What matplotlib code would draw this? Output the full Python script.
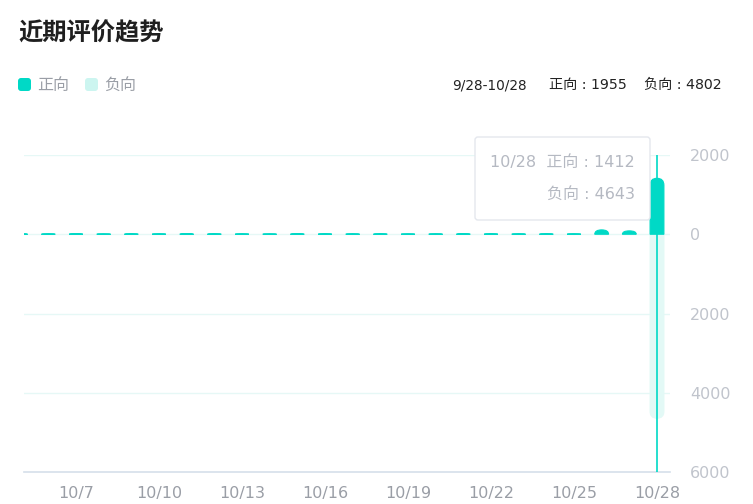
import matplotlib
matplotlib.use("Agg")
import matplotlib.pyplot as plt
from matplotlib.path import Path
from matplotlib.patches import PathPatch, FancyBboxPatch
from matplotlib.transforms import IdentityTransform

plt.rcParams['font.family'] = ['Noto Sans CJK SC', 'DejaVu Sans']
WIDE = ['DejaVu Sans', 'Noto Sans CJK SC']  # wider digits, CJK falls back

#######################################################################################################
# data
#######################################################################################################

dates = ['9/28', '9/29', '9/30', '10/1', '10/2', '10/3', '10/4', '10/5', '10/6', '10/7',
         '10/8', '10/9', '10/10', '10/11', '10/12', '10/13', '10/14', '10/15', '10/16', '10/17',
         '10/18', '10/19', '10/20', '10/21', '10/22', '10/23', '10/24', '10/25', '10/26', '10/27',
         '10/28']
positive = [26, 22, 19, 24, 18, 21, 16, 10, 9, 11,
            8, 10, 9, 12, 10, 9, 8, 11, 10, 9,
            10, 8, 9, 11, 10, 9, 10, 9, 110, 85,
            1412]
negative = [8, 6, 7, 9, 5, 6, 7, 4, 5, 3,
            4, 5, 4, 6, 4, 3, 5, 4, 4, 5,
            3, 4, 5, 4, 4, 5, 4, 5, 12, 9,
            4643]
y_ticks = [2000, 0, -2000, -4000, -6000]
x_tick_idx = [9, 12, 15, 18, 21, 24, 27, 30]

POS_COLOR = '#00d9c6'
NEG_COLOR = '#e3f9f6'
NEG_LEGEND = '#ccf5f0'

W, H = 753, 504
fig = plt.figure(figsize=(W / 100, H / 100), dpi=100)
ax_l, ax_r, ax_t, ax_b = 24, 670, 155, 472
ax = fig.add_axes([ax_l / W, (H - ax_b) / H, (ax_r - ax_l) / W, (ax_b - ax_t) / H])

xmin, xmax = 7.12, 30.47
ymin, ymax = -6000, 2000
ax.set_xlim(xmin, xmax)
ax.set_ylim(ymin, ymax)

px_x = (ax_r - ax_l) / (xmax - xmin)
px_y = (ax_b - ax_t) / (ymax - ymin)


def rounded_bar(x, h, w, color, r_px=7, z=3):
    # bar from 0 to h with the far end rounded (like echarts borderRadius)
    a, b = x - w / 2, x + w / 2
    rx = min(r_px / px_x, w / 2)
    ry = min(r_px / px_y, abs(h))
    s = 1 if h >= 0 else -1
    verts = [(a, 0), (a, h - s * ry), (a, h), (a + rx, h), (b - rx, h),
             (b, h), (b, h - s * ry), (b, 0), (a, 0)]
    codes = [Path.MOVETO, Path.LINETO, Path.CURVE3, Path.CURVE3, Path.LINETO,
             Path.CURVE3, Path.CURVE3, Path.LINETO, Path.CLOSEPOLY]
    ax.add_patch(PathPatch(Path(verts, codes), facecolor=color, edgecolor=color,
                           lw=0.8, zorder=z, clip_on=True))


for i in range(len(dates)):
    rounded_bar(i, -negative[i], 0.5, NEG_COLOR, z=2)
    rounded_bar(i, positive[i], 0.5, POS_COLOR, z=3)

# grid lines
for t in y_ticks[:-1]:
    ax.axhline(t, color='#e6f8f6', lw=1, zorder=1)

# tooltip axis pointer
ax.axvline(len(dates) - 1, color=POS_COLOR, lw=1.2, zorder=5)

for s in ['top', 'left', 'right']:
    ax.spines[s].set_visible(False)
ax.spines['bottom'].set_color('#d5dfea')
ax.spines['bottom'].set_linewidth(1.2)

ax.set_xticks(x_tick_idx)
ax.set_xticklabels([dates[i] for i in x_tick_idx], color='#9a9ea6', fontsize=11.5, family=WIDE)
ax.yaxis.tick_right()
ax.set_yticks(y_ticks)
ax.set_yticklabels([str(abs(t)) for t in y_ticks], color='#c0c4cc', fontsize=11.5, family=WIDE)
ax.tick_params(axis='x', length=0, pad=10)
ax.tick_params(axis='y', length=0, pad=14.5)


def fy(y):
    return 1 - y / H


# title
fig.text(18 / W, fy(33), '近期评价趋势', fontsize=17.5, fontweight='bold', color='#1f1f1f',
         va='center', ha='left')

# legend
for x0, col, label in [(18, POS_COLOR, '正向'), (85, NEG_LEGEND, '负向')]:
    fig.add_artist(FancyBboxPatch((x0, H - 91), 13, 13, boxstyle='round,pad=0,rounding_size=3',
                                  facecolor=col, edgecolor='none', transform=IdentityTransform()))
    fig.text((x0 + 19) / W, fy(85), label, fontsize=11.5, color='#9a9ea6', va='center', ha='left')

# summary at top right
fig.text(452 / W, fy(85), dates[0] + '-' + dates[-1], fontsize=9.8, color='#222222',
         va='center', ha='left', family=WIDE)
fig.text(549 / W, fy(85), '正向 : ' + str(sum(positive)), fontsize=10.2, color='#222222',
         va='center', ha='left', family=WIDE)
fig.text(644 / W, fy(85), '负向 : ' + str(sum(negative)), fontsize=10.2, color='#222222',
         va='center', ha='left', family=WIDE)

# tooltip
fig.add_artist(FancyBboxPatch((475, H - 220), 175, 83, boxstyle='round,pad=0,rounding_size=3',
                              facecolor='white', edgecolor='#e4e7ed', lw=1,
                              transform=IdentityTransform(), zorder=10))
fig.text(635 / W, fy(163), dates[-1] + '  正向 : ' + str(positive[-1]), fontsize=11.5,
         color='#b5b9c2', va='center', ha='right', zorder=11, family=WIDE)
fig.text(635 / W, fy(194), '负向 : ' + str(negative[-1]), fontsize=11.5,
         color='#b5b9c2', va='center', ha='right', zorder=11, family=WIDE)

plt.savefig('out.png', dpi=100)
